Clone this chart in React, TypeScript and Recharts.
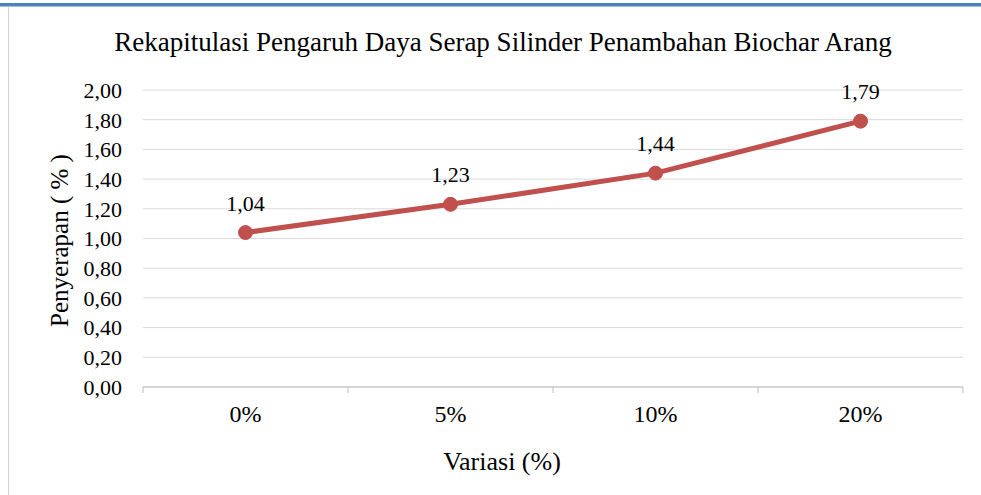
import React from 'react';
import { LineChart, Line, XAxis, YAxis, CartesianGrid, LabelList } from 'recharts';

const categories = ['0%', '5%', '10%', '20%'];
const absorption = [1.04, 1.23, 1.44, 1.79];
const yTicks = [0, 0.2, 0.4, 0.6, 0.8, 1.0, 1.2, 1.4, 1.6, 1.8, 2.0];

const data = categories.map((c, i) => ({ variasi: c, penyerapan: absorption[i] }));

const FONT = '"Liberation Serif", "Times New Roman", serif';
const RED = '#C0504D';
const AXIS_GREY = '#BFBFBF';
const PLOT_WIDTH = 820;
const BAND = PLOT_WIDTH / categories.length;

const serif = { fontFamily: FONT };

const comma = (v: number) => v.toFixed(2).replace('.', ',');

const XTick = (props: any) => {
    const { x, y, payload, index } = props;
    const last = index === categories.length - 1;
    return (
        <g>
            <line x1={x - BAND / 2} y1={y} x2={x - BAND / 2} y2={y + 6} stroke={AXIS_GREY} />
            {last && <line x1={x + BAND / 2} y1={y} x2={x + BAND / 2} y2={y + 6} stroke={AXIS_GREY} />}
            <text x={x} y={y + 35} textAnchor="middle" style={serif} fontSize={24} fill="#000">
                {payload.value}
            </text>
        </g>
    );
};

const YTitle = (props: any) => {
    const { viewBox } = props;
    const cx = 68;
    const cy = viewBox.y + viewBox.height / 2 + 2;
    return (
        <text
            x={cx}
            y={cy}
            transform={`rotate(-90 ${cx} ${cy})`}
            textAnchor="middle"
            style={serif}
            fontSize={25}
            fill="#000"
        >
            Penyerapan ( % )
        </text>
    );
};

const App = () => {
    return (
        <div style={{ position: 'absolute', left: 0, top: 0, width: 981, height: 495, background: '#fff' }}>
            <svg width={981} height={495} style={{ position: 'absolute', left: 0, top: 0 }}>
                <rect x={0} y={3} width={981} height={3} fill="#4F81BD" />
                <rect x={0} y={6} width={981} height={1} fill="#A7C0DE" />
                <rect x={8} y={7} width={1} height={488} fill="#D0D0D0" />
                <text x={503} y={51} textAnchor="middle" style={serif} fontSize={27} fill="#000">
                    Rekapitulasi Pengaruh Daya Serap Silinder Penambahan Biochar Arang
                </text>
                <text x={502} y={470} textAnchor="middle" style={serif} fontSize={26} fill="#000">
                    Variasi (%)
                </text>
            </svg>
            <div style={{ position: 'absolute', left: 0, top: 0 }}>
                <LineChart width={981} height={495} data={data} margin={{ top: 90, right: 18, bottom: 0, left: 0 }}>
                    <CartesianGrid vertical={false} stroke="#D9D9D9" />
                    <XAxis
                        dataKey="variasi"
                        height={108}
                        padding={{ left: BAND / 2, right: BAND / 2 }}
                        axisLine={{ stroke: AXIS_GREY }}
                        tickLine={false}
                        tickSize={0}
                        tickMargin={0}
                        tick={<XTick />}
                        interval={0}
                    />
                    <YAxis
                        width={143}
                        domain={[0, 2]}
                        ticks={yTicks}
                        interval={0}
                        tickFormatter={comma}
                        axisLine={false}
                        tickLine={false}
                        tickMargin={15}
                        tick={{ style: serif, fontSize: 22, fill: '#000' }}
                        label={<YTitle />}
                    />
                    <Line
                        dataKey="penyerapan"
                        stroke={RED}
                        strokeWidth={5}
                        dot={{ r: 7, fill: RED, stroke: RED, strokeWidth: 1 }}
                        isAnimationActive={false}
                    >
                        <LabelList
                            dataKey="penyerapan"
                            position="top"
                            offset={22}
                            formatter={(v: any) => comma(Number(v))}
                            fontFamily={FONT}
                            fontSize={22}
                            fill="#000"
                            style={serif}
                        />
                    </Line>
                </LineChart>
            </div>
        </div>
    );
};

export default App;
